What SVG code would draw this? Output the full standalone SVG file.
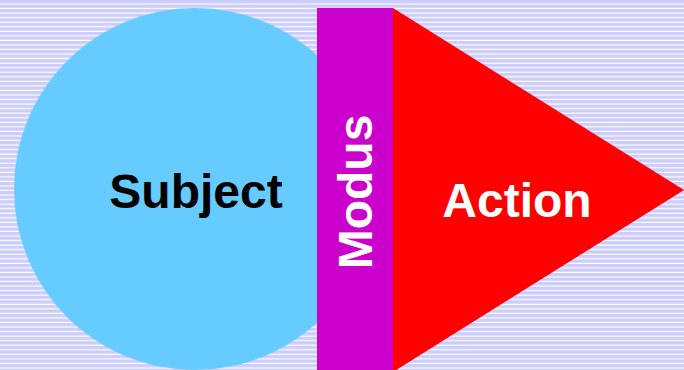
<svg xmlns="http://www.w3.org/2000/svg" width="684" height="370" viewBox="0 0 684 370">
<defs>
<pattern id="stripes" x="0" y="0" width="10" height="4.55" patternUnits="userSpaceOnUse">
<rect x="0" y="0" width="10" height="3.5" fill="#ccccff"/>
<rect x="0" y="3.5" width="10" height="1.05" fill="#ffffff"/>
</pattern>
<style>
.lbl{font-family:"Liberation Sans",Arial,sans-serif;font-weight:bold;font-size:48px;text-anchor:middle}
</style>
</defs>
<rect x="0" y="0" width="684" height="370" fill="url(#stripes)"/>
<g id="subject">
<circle cx="195" cy="189" r="181" fill="#66ccff"/>
<text class="lbl" x="196" y="208" fill="#000000">Subject</text>
</g>
<g id="action">
<polygon points="393,8 684,190 393,372" fill="#ff0000"/>
<text class="lbl" x="517" y="217" fill="#ffffff">Action</text>
</g>
<g id="modus">
<rect x="317" y="8" width="76" height="362" fill="#cc00cc"/>
<text class="lbl" x="0" y="0" fill="#ffffff" transform="translate(372,192) rotate(-90)">Modus</text>
</g>
<g id="connectors"/>
</svg>
